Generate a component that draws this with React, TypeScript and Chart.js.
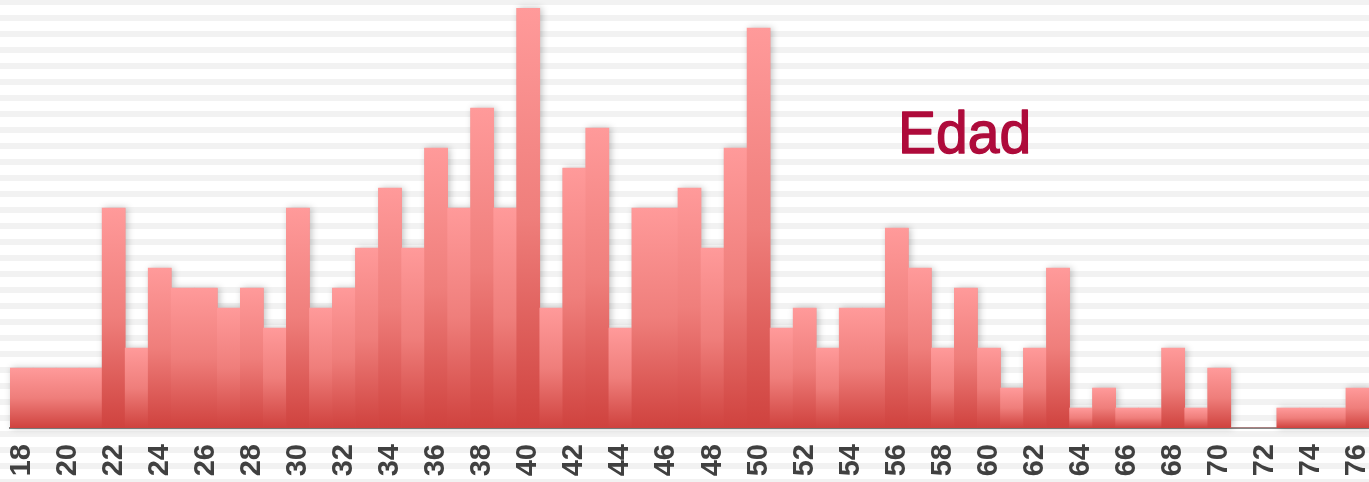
import React, { useEffect, useRef } from 'react';
import { Chart, registerables } from 'chart.js';

Chart.register(...registerables);

const ages: string[] = [
  '18', '19', '20', '21', '22', '23', '24', '25', '26', '27',
  '28', '29', '30', '31', '32', '33', '34', '35', '36', '37',
  '38', '39', '40', '41', '42', '43', '44', '45', '46', '47',
  '48', '49', '50', '51', '52', '53', '54', '55', '56', '57',
  '58', '59', '60', '61', '62', '63', '64', '65', '66', '67',
  '68', '69', '70', '71', '72', '73', '74', '75', '76',
];

const counts: number[] = [
  3, 3, 3, 3, 11, 4, 8, 7, 7, 6,
  7, 5, 11, 6, 7, 9, 12, 9, 14, 11,
  16, 11, 21, 6, 13, 15, 5, 11, 11, 12,
  9, 14, 20, 5, 6, 4, 6, 6, 10, 8,
  4, 7, 4, 2, 4, 8, 1, 2, 1, 1,
  4, 1, 3, 0, 0, 1, 1, 1, 2,
];

const shownTicks: string[] = [
  '18', '20', '22', '24', '26', '28', '30', '32', '34', '36',
  '38', '40', '42', '44', '46', '48', '50', '52', '54', '56',
  '58', '60', '62', '64', '66', '68', '70', '72', '74', '76',
];

const chartTitle = 'Edad';
const yMax = 21;

const stripesPlugin = {
  id: 'stripes',
  beforeDraw(chart: any) {
    const { ctx, width, height } = chart;
    ctx.save();
    ctx.fillStyle = '#ffffff';
    ctx.fillRect(0, 0, width, height);
    ctx.fillStyle = '#f2f2f2';
    for (let y = -1; y < height; y += 16) {
      ctx.fillRect(0, y, width, 6);
    }
    ctx.restore();
  },
};

// one shadow for the whole silhouette of bars, so adjacent bars show no seams
const shadowPlugin = {
  id: 'barShadow',
  beforeDatasetsDraw(chart: any) {
    const ctx = chart.ctx;
    const meta = chart.getDatasetMeta(0);
    ctx.save();
    ctx.shadowColor = 'rgba(0,0,0,0.25)';
    ctx.shadowBlur = 7;
    ctx.shadowOffsetX = 2;
    ctx.shadowOffsetY = 0;
    ctx.fillStyle = '#e86a67';
    ctx.beginPath();
    meta.data.forEach((bar: any) => {
      const p = bar.getProps(['x', 'y', 'base', 'width'], true);
      if (p.base - p.y > 0.5) ctx.rect(p.x - p.width / 2, p.y, p.width, p.base - p.y);
    });
    ctx.fill();
    ctx.restore();
  },
};

const titlePlugin = {
  id: 'insideTitle',
  afterDraw(chart: any) {
    const ctx = chart.ctx;
    ctx.save();
    ctx.font = '60px "Liberation Sans", Arial, sans-serif';
    ctx.fillStyle = '#ae0b3b';
    ctx.strokeStyle = '#ae0b3b';
    ctx.lineWidth = 1.4;
    ctx.lineJoin = 'round';
    ctx.textBaseline = 'alphabetic';
    ctx.textAlign = 'left';
    ctx.translate(898, 153);
    ctx.scale(0.95, 1);
    ctx.fillText(chartTitle, 0, 0);
    ctx.strokeText(chartTitle, 0, 0);
    ctx.restore();
  },
};

export default function App() {
  const canvasRef = useRef<HTMLCanvasElement | null>(null);

  useEffect(() => {
    if (!canvasRef.current) return;
    const chart = new Chart(canvasRef.current, {
      type: 'bar',
      data: {
        labels: ages,
        datasets: [
          {
            data: counts,
            barPercentage: 1,
            categoryPercentage: 1,
            borderWidth: 0,
            backgroundColor: (c: any) => {
              const ch = c.chart;
              const ys = ch.scales && ch.scales.y;
              if (c.type !== 'data' || !ys) return '#f07a77';
              const top = ys.getPixelForValue(c.raw);
              const base = ys.getPixelForValue(0);
              if (!isFinite(top) || !isFinite(base) || base - top < 1) return '#f07a77';
              const g = ch.ctx.createLinearGradient(0, top, 0, base);
              g.addColorStop(0, '#ff9a9a');
              g.addColorStop(0.5, '#ef7e7b');
              g.addColorStop(1, '#cf423e');
              return g;
            },
          },
        ],
      },
      options: {
        responsive: false,
        animation: false,
        devicePixelRatio: 1,
        layout: { padding: { top: 8, left: 10, right: 0, bottom: 0 } },
        plugins: {
          legend: { display: false },
          tooltip: { enabled: false },
        },
        scales: {
          x: {
            type: 'category',
            offset: true,
            grid: { display: false, drawTicks: false },
            border: { display: true, color: '#878787', width: 2 },
            ticks: {
              autoSkip: false,
              minRotation: 90,
              maxRotation: 90,
              padding: 16,
              color: '#404040',
              font: { family: '"Liberation Sans", Arial, sans-serif', size: 29, weight: 'bold' },
              callback: (_v: any, i: number) => (shownTicks.includes(ages[i]) ? ages[i] : ''),
            },
            afterFit: (s: any) => {
              s.height = 54;
              s.paddingLeft = 0;
              s.paddingRight = 0;
            },
          },
          y: {
            display: false,
            min: 0,
            max: yMax,
          },
        },
      },
      plugins: [stripesPlugin, shadowPlugin, titlePlugin],
    } as any);
    return () => chart.destroy();
  }, []);

  return (
    <div style={{ position: 'fixed', left: 0, top: 0, width: 1369, height: 482, background: '#fff' }}>
      <canvas ref={canvasRef} width={1369} height={482} style={{ display: 'block', width: 1369, height: 482 }} />
    </div>
  );
}
